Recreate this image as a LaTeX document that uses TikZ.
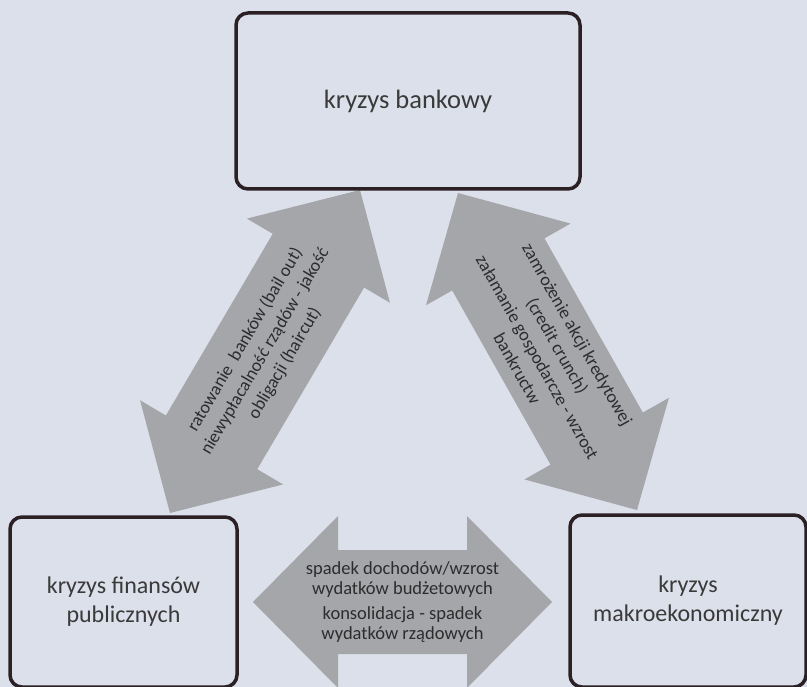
\documentclass[tikz,border=0pt]{standalone}
\usepackage{fontspec}
\setmainfont{Carlito}
\usetikzlibrary{calc}
\definecolor{bg}{HTML}{DCE0EA}
\definecolor{arrowgray}{HTML}{A4A6AA}
\definecolor{frame}{HTML}{2B2124}
\definecolor{boxtxt}{HTML}{3A3A3A}
\definecolor{arrtxt}{HTML}{2C2C2C}
\tikzset{
  crisis/.style={draw=frame, line width=3.5pt, rounded corners=12pt, fill=bg,
    align=center, text=boxtxt, font=\fontsize{24}{29}\selectfont, inner sep=0pt},
  blockarrow/.style={fill=arrowgray},
  diagtext/.style={sloped, align=center, text=arrtxt, inner sep=0pt,
    font=\fontsize{18}{23}\selectfont},
  flattext/.style={align=center, text=arrtxt, inner sep=0pt,
    font=\fontsize{18.5}{19.5}\selectfont}
}
% double block arrow: #1 tail tip, #2 head tip, #3 head length, #4 head half-width, #5 shaft half-width
\newcommand\dblarrow[5]{%
  \coordinate (#1h) at ($(#1)!#3!(#2)$);
  \coordinate (#2h) at ($(#2)!#3!(#1)$);
  \fill[blockarrow] (#2) -- ($(#2h)!#4!90:(#2)$) -- ($(#2h)!#5!90:(#2)$)
    -- ($(#1h)!#5!-90:(#1)$) -- ($(#1h)!#4!-90:(#1)$) -- (#1)
    -- ($(#1h)!#4!90:(#1)$) -- ($(#1h)!#5!90:(#1)$)
    -- ($(#2h)!#5!-90:(#2)$) -- ($(#2h)!#4!-90:(#2)$) -- cycle;}
\begin{document}
\begin{tikzpicture}[x=1pt, y=-1pt]
  \useasboundingbox (0,0) rectangle (807,687);
  \clip (0,0) rectangle (807,687);
  \fill[bg] (0,0) rectangle (807,687);

  % arrow tips
  \coordinate (La) at (170,513);
  \coordinate (Lb) at (360,190);
  \coordinate (Ra) at (458,193);
  \coordinate (Rb) at (637,510);
  \coordinate (Ba) at (253,602);
  \coordinate (Bb) at (552,602);

  \dblarrow{La}{Lb}{82pt}{83pt}{53pt}
  \dblarrow{Ra}{Rb}{82pt}{83pt}{53pt}
  \dblarrow{Ba}{Bb}{85pt}{86pt}{52pt}

  \path (La) -- node[diagtext] (ltext)
    {ratowanie\hspace{0.25em} banków (bail out)\\niewypłacalność rządów - jakość\\obligacji (haircut)} (Lb);
  \path (Ra) -- node[diagtext] (rtext)
    {zamrożenie akcji kredytowej\\(credit crunch)\\załamanie gospodarcze - wzrost\\bankructw} (Rb);
  \node[flattext] (btext) at ($(Ba)!0.5!(Bb)$)
    {spadek dochodów/wzrost\\wydatków budżetowych\\[6pt]konsolidacja - spadek\\wydatków rządowych};

  % crisis boxes
  \node[crisis, minimum width=344pt, minimum height=176pt,
        font=\fontsize{26.5}{31}\selectfont] (bank) at (408,101) {kryzys bankowy};
  \node[crisis, minimum width=227pt, minimum height=170pt] (fin) at (123.5,602) {kryzys finansów\\publicznych};
  \node[crisis, minimum width=236pt, minimum height=172pt] (macro) at (688,601) {kryzys\\makroekonomiczny};
\end{tikzpicture}
\end{document}
